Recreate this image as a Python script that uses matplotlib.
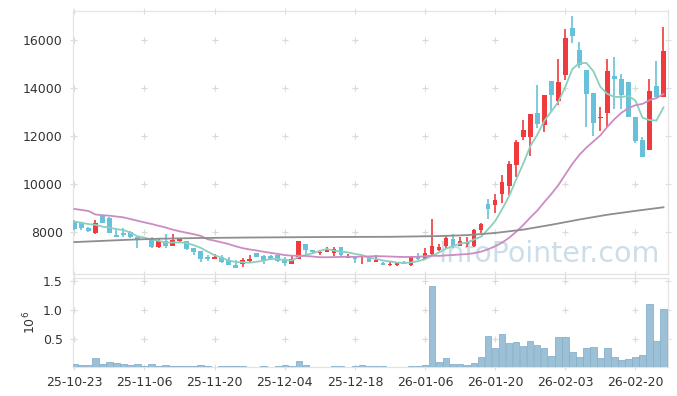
import matplotlib
matplotlib.use('Agg')
import matplotlib.pyplot as plt
import numpy as np
import pandas as pd

# ---- data ----
opens = [8420, 8390, 8170, 7950, 8670, 8600, 7870, 7940, 7990, 7790,
         7700, 7735, 7390, 7640, 7430, 7640, 7625, 7330, 7210, 6945,
         6890, 6970, 6830, 6625, 6670, 6790, 7140, 7000, 7000, 7030,
         6860, 6670, 6875, 7500, 7250, 7140, 7155, 7140, 7360, 6930,
         6970, 6940, 6945, 6740, 6720, 6610, 6640, 6760, 6640, 7000,
         6860, 7080, 7250, 7415, 7710, 7430, 7510, 7415, 8080, 9150,
         9125, 9580, 9920, 10790, 11970, 11940, 12950, 12460, 14290, 13470,
         14540, 16500, 15580, 14750, 13790, 12740, 12970, 14500, 14375, 14250,
         12800, 11830, 11430, 14080, 13640]
highs = [8480, 8420, 8190, 8500, 8710, 8620, 8150, 8150, 8030, 7790,
         7700, 7790, 7695, 7905, 7905, 7720, 7625, 7330, 7210, 7040,
         7100, 7040, 6960, 6830, 6920, 7040, 7140, 7040, 7040, 7040,
         6960, 7000, 7625, 7500, 7250, 7250, 7375, 7375, 7360, 7080,
         7000, 7000, 7000, 7040, 6760, 6800, 6760, 6800, 7000, 7125,
         7320, 8560, 7500, 7875, 7900, 7790, 7800, 8110, 8390, 9360,
         9580, 10375, 10970, 11830, 12670, 12920, 14125, 13710, 14290, 15200,
         16450, 17000, 15900, 14750, 13790, 13200, 15200, 15280, 14580, 14250,
         12800, 11940, 14360, 15125, 16530]
lows = [8080, 8080, 7980, 7900, 8360, 7970, 7800, 7800, 7750, 7330,
        7700, 7320, 7320, 7320, 7400, 7560, 7250, 7050, 6760, 6800,
        6890, 6710, 6625, 6510, 6540, 6750, 6970, 6670, 6850, 6750,
        6600, 6670, 6875, 7040, 7080, 7040, 7155, 7000, 6960, 6930,
        6710, 6650, 6740, 6740, 6640, 6570, 6600, 6700, 6600, 6820,
        6830, 7050, 7200, 7320, 7320, 7400, 7390, 7390, 7945, 8540,
        8780, 9195, 9540, 10300, 11830, 11170, 12320, 12170, 13040, 13290,
        14330, 15860, 14820, 12390, 11990, 12220, 12360, 13125, 13110, 12800,
        11720, 11140, 11430, 13610, 13640]
closes = [8140, 8170, 8030, 8380, 8390, 7970, 7800, 7880, 7810, 7650,
          7700, 7390, 7625, 7430, 7670, 7720, 7290, 7155, 6875, 6875,
          6960, 6760, 6625, 6510, 6830, 6875, 6970, 6830, 6890, 6790,
          6695, 6860, 7625, 7250, 7155, 7180, 7250, 7290, 7040, 7000,
          6860, 7000, 6740, 6820, 6640, 6680, 6750, 6655, 6945, 6890,
          7110, 7415, 7390, 7735, 7430, 7640, 7570, 8080, 8330, 8960,
          9330, 10070, 10830, 11760, 12250, 12920, 12500, 13710, 13710, 14260,
          16070, 16180, 14960, 13750, 12550, 12790, 14710, 14360, 13710, 12800,
          11800, 11140, 13875, 13610, 15540]
volumes = [54000, 36000, 36000, 160000, 54000, 87000, 70000, 54000, 36000, 54000,
           15000, 54000, 20000, 36000, 18000, 18000, 18000, 18000, 36000, 18000,
           4000, 18000, 18000, 18000, 18000, 4000, 4000, 18000, 4000, 18000,
           36000, 18000, 104000, 36000, 4000, 4000, 4000, 18000, 18000, 4000,
           18000, 36000, 18000, 18000, 18000, 4000, 4000, 4000, 18000, 18000,
           36000, 1410000, 87000, 156000, 52000, 52000, 35000, 70000, 174000, 540000,
           330000, 573000, 417000, 440000, 365000, 457000, 382000, 330000, 190000, 520000,
           520000, 260000, 174000, 330000, 347000, 156000, 330000, 174000, 127000, 139000,
           174000, 210000, 1094000, 457000, 1007000]

# moving-average values before enough history exists
ma5_head = [8430, 8390, 8330, 8300]
ma20_head = [8960, 8920, 8875, 8730, 8700, 8680, 8645, 8610, 8540, 8470,
             8400, 8335, 8260, 8190, 8100, 8030, 7970, 7910, 7840]
# long moving average (bar index, value)
malong_idx = [0, 4, 8, 12, 18, 25, 35, 45, 52, 56, 60, 64, 68, 72, 76, 80, 84]
malong_val = [7580, 7630, 7680, 7720, 7750, 7770, 7790, 7800, 7830, 7870,
              7960, 8100, 8300, 8520, 8720, 8880, 9030]

tick_labels = ['25-10-23', '25-11-06', '25-11-20', '25-12-04', '25-12-18',
               '26-01-06', '26-01-20', '26-02-03', '26-02-20']
price_ticks = [8000, 10000, 12000, 14000, 16000]
vol_ticks = [500000, 1000000, 1500000]

# ---- derived ----
n = len(closes)
x = np.arange(n)
o = np.array(opens, float); c = np.array(closes, float)
h = np.array(highs, float); l = np.array(lows, float)
s = pd.Series(c)
ma5 = s.rolling(5).mean().to_numpy(); ma5[:len(ma5_head)] = ma5_head
ma20 = s.rolling(20).mean().to_numpy(); ma20[:len(ma20_head)] = ma20_head

RED = '#ef3b3d'
BLUE = '#67c1da'
up = c >= o
col = np.where(up, RED, BLUE)

W, H = 677, 396
def rect(lft, top, rgt, bot):
    return [lft / W, 1 - bot / H, (rgt - lft) / W, (bot - top) / H]

fig = plt.figure(figsize=(W / 100, H / 100), dpi=100)
ax = fig.add_axes(rect(73.3, 10.5, 667.7, 274))
axv = fig.add_axes(rect(73.3, 278.3, 667.7, 367.3), sharex=ax)

tick_pos = list(range(0, 10 * len(tick_labels), 10))

# grid crosses
for a, yt in ((ax, price_ticks), (axv, vol_ticks)):
    gx, gy = np.meshgrid(tick_pos, yt)
    a.plot(gx.ravel(), gy.ravel(), linestyle='none', marker='+', ms=5,
           mew=0.8, color='#d9d9d9', zorder=1)

# watermark
ax.text(0.80, 0.075, 'InfoPointer.com', transform=ax.transAxes,
        ha='center', va='center', fontsize=20.5, color='#bcd3e2',
        alpha=0.75, zorder=1.5)

# candles
ax.vlines(x, l, h, colors=col, lw=1.2, zorder=3)
body = np.abs(c - o)
body = np.where((body < 40) & (h > l), 40, body)
bottom = np.minimum(o, c)
ax.bar(x, body, bottom=bottom, width=0.66, color=col, linewidth=0, zorder=4)

# moving averages
ax.plot(x, ma5, color='#8ccfbf', lw=1.3, zorder=5)
ax.plot(x, ma20, color='#cc8cc2', lw=1.3, zorder=5)
ax.plot(malong_idx, malong_val, color='#8e8e8e', lw=1.3, zorder=5)

# volume
axv.bar(x, volumes, width=0.92, color='#9cc0d6', edgecolor='#88b1ca',
        linewidth=0.6, zorder=3)

ax.set_xlim(-0.15, 84.6)
ax.set_ylim(6250, 17230)
axv.set_ylim(0, 1.55e6)

ax.set_yticks(price_ticks)
ax.set_yticklabels([str(v) for v in price_ticks])
axv.set_yticks(vol_ticks)
axv.set_yticklabels(['0.5', '1.0', '1.5'])
axv.set_xticks(tick_pos)
axv.set_xticklabels(tick_labels)
plt.setp(ax.get_xticklabels(), visible=False)

for a in (ax, axv):
    for sp in a.spines.values():
        sp.set_color('#e3e3e3')
        sp.set_linewidth(0.9)
    a.tick_params(axis='both', direction='inout', length=5, width=0.8,
                  color='#dcdcdc', labelsize=9, labelcolor='#333333',
                  top=True, right=True, pad=4)
    a.tick_params(axis='y', pad=5)
    a.set_facecolor('white')

fig.text(30 / W, 1 - 322 / H, r'$10^6$', rotation=90, ha='center',
         va='center', fontsize=9, color='#333333')

fig.savefig('out.png', dpi=100, facecolor='white')
